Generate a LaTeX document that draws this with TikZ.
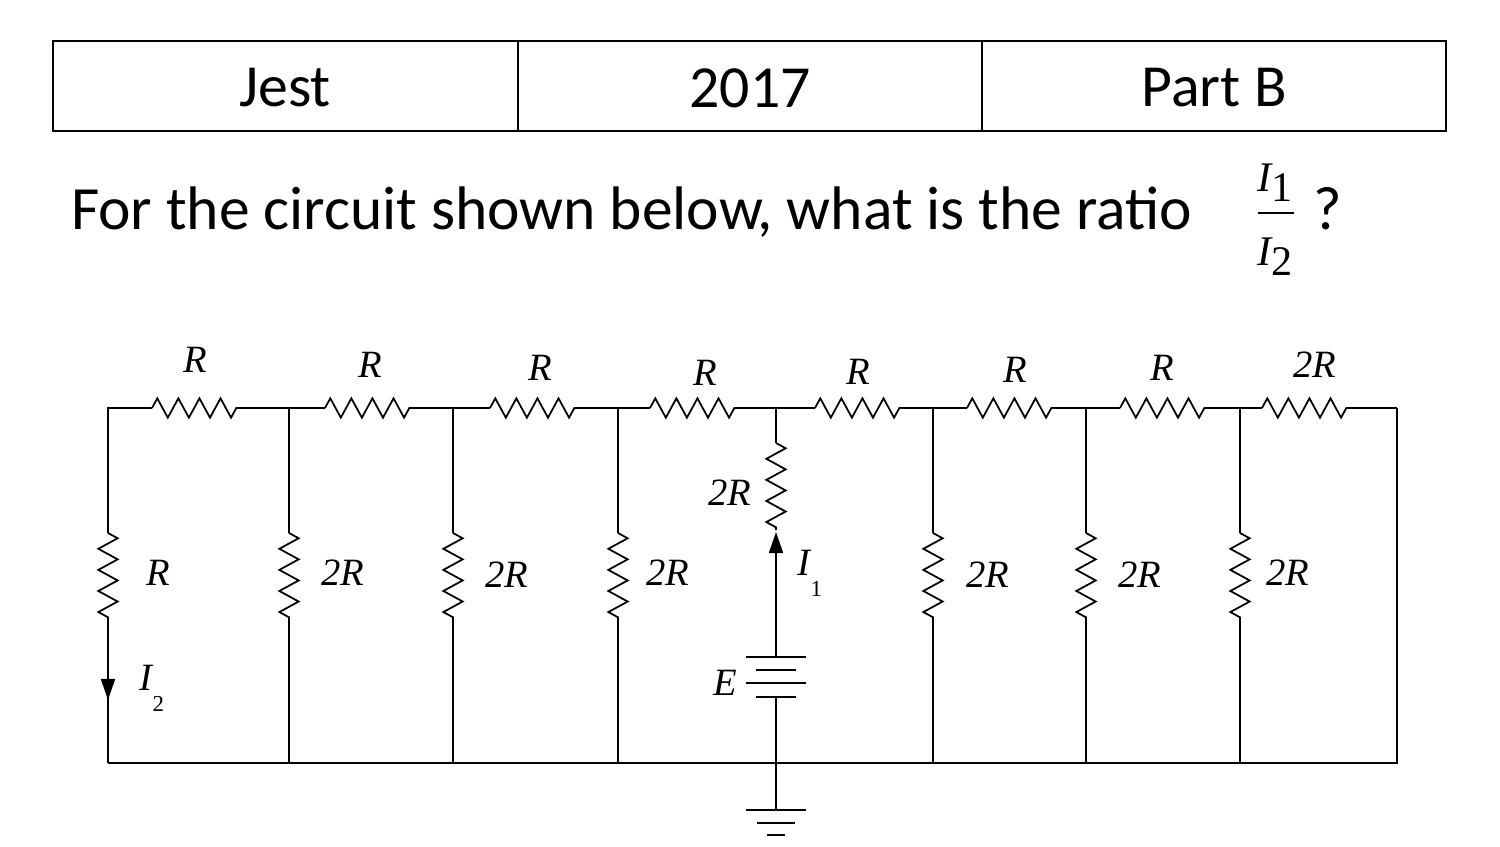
\documentclass[tikz,border=0pt]{standalone}
\usepackage{fontspec}
\setmainfont{Carlito}
\newfontfamily\tms{Liberation Serif}
\usetikzlibrary{decorations.pathmorphing,arrows.meta}
\begin{document}
\begin{tikzpicture}[x=0.02cm,y=-0.02cm,line width=1.3pt,
  zz/.style={decorate,decoration={zigzag,amplitude=5.5pt,segment length=12pt}},
  lab/.style={font=\tms\itshape\fontsize{22}{24}\selectfont,inner sep=0pt},
  hd/.style={font=\fontsize{34}{38}\selectfont},
  fl/.style={font=\tms\itshape\fontsize{24}{26}\selectfont,inner sep=0pt}]
\useasboundingbox (0,0) rectangle (1500,847);
% header
\draw[line width=1.2pt] (53,41) rectangle (1446,131) (518,41)--(518,131) (982,41)--(982,131);
\node[hd] (h1) at (285,88) {Jest};
\node[hd] (h2) at (750,88) {2017};
\node[hd] (h3) at (1214,88) {Part B};
\node[font=\fontsize{35}{40}\selectfont,anchor=base west,inner sep=0pt] (q) at (70,230) {For the circuit shown below, what is the ratio};
\node[fl] (f1) at (1275,183) {I\raisebox{-0.5ex}{\upshape 1}};
\node[fl] (f2) at (1275,257) {I\raisebox{-0.5ex}{\upshape 2}};
\draw[line width=1pt] (1258,213)--(1294,213);
\node[font=\fontsize{35}{40}\selectfont,anchor=base west,inner sep=0pt] (qm) at (1312,230) {?};
% circuit
\begin{scope}[line width=1pt]
\draw (108,520)--(108,408)--(152,408);
\foreach \a/\b/\c in {152/238/289, 325/410/453, 490/575/618, 650/738/776, 815/900/933, 967/1052/1086, 1120/1205/1240, 1262/1350/1397}{
  \draw[zz] (\a,408)--(\b,408);
  \draw (\b,408)--(\c,408);
}
\draw (289,408)--(325,408) (453,408)--(490,408) (618,408)--(650,408) (776,408)--(815,408) (933,408)--(967,408) (1086,408)--(1120,408) (1240,408)--(1262,408);
\draw (1397,408)--(1397,763)--(108,763);
\draw (108,520)--(108,533);
\draw[zz] (108,533)--(108,622);
\draw (108,622)--(108,763);
\draw[-{Triangle[length=12pt,width=8pt]}] (108,622)--(108,700);
\foreach \x in {289,453,618,933,1086,1240}{
  \draw (\x,408)--(\x,533);
  \draw[zz] (\x,533)--(\x,622);
  \draw (\x,622)--(\x,763);
}
\draw (776,408)--(776,443);
\draw[zz] (776,443)--(776,530);
\draw[-{Triangle[length=12pt,width=8pt]}] (776,657)--(776,532);
\draw (746,657)--(806,657) (756,670)--(796,670) (746,683)--(806,683) (756,697)--(796,697);
\draw (776,697)--(776,810);
\draw (746,810)--(806,810) (757,823)--(795,823) (767,835)--(785,835);
\end{scope}
\foreach \x/\y/\t/\n in {195/360/R/a1, 370/365/R/a2, 540/368/R/a3, 705/373/R/a4, 858/372/R/a5, 1015/370/R/a6, 1162/368/R/a7, 1315/365/2R/a8,
  158/573/R/b1, 343/573/2R/b2, 507/575/2R/b3, 668/573/2R/b4, 988/575/2R/b5, 1140/575/2R/b6, 1288/573/2R/b7, 730/493/2R/b8, 725/683/E/b9}
  {\node[lab] (\n) at (\x,\y) {\t};}
\node[lab] (i1) at (810,573) {I\raisebox{-1.2ex}{\upshape\fontsize{13}{14}\selectfont 1}};
\node[lab] (i2) at (152,688) {I\raisebox{-1.2ex}{\upshape\fontsize{13}{14}\selectfont 2}};
\end{tikzpicture}
\end{document}
